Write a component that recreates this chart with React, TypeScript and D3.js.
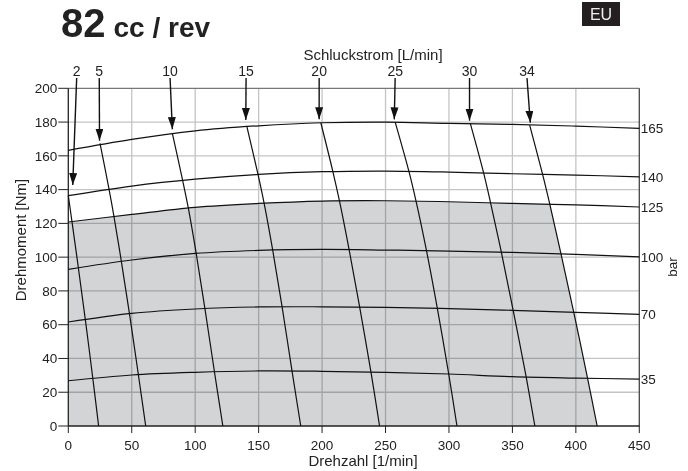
import * as d3 from "d3";
import React from "react";

// Drehzahl [1/min] sample positions for the pressure curves
const speeds = [0, 50, 100, 150, 200, 250, 300, 350, 400, 450];

// torque [Nm] per pressure (bar) curve, read at the speeds above
const pressureLabels = ["165", "140", "125", "100", "70", "35"];
const p165 = [163.2, 169.7, 174.8, 177.8, 179.6, 180, 179.2, 178.6, 177.6, 176.3];
const p140 = [136.4, 142.1, 146.2, 149, 150.6, 151, 150.4, 149.4, 148.6, 147.6];
const p125 = [120.8, 125.3, 129.5, 131.8, 133.2, 133.4, 132.8, 131.8, 131, 129.7];
const p100 = [92.8, 98.3, 102.2, 104, 104.6, 104.2, 103.6, 102.8, 101.6, 100.2];
const p70 = [61.6, 66.7, 69.3, 70.5, 70.6, 70.3, 69.5, 68.5, 67.3, 66.1];
const p35 = [26.8, 30.2, 31.8, 32.6, 32.4, 31.8, 30.8, 29.2, 28.4, 27.8];
const pressureSeries = [p165, p140, p125, p100, p70, p35];

// Schluckstrom [L/min] lines: [speed, torque] points top to bottom
const flowLabels = ["2", "5", "10", "15", "20", "25", "30", "34"];
const flow2 = [[0, 136.4], [2.9, 121], [8, 93.3], [13.5, 62.6], [19.3, 28.3], [23.9, 0]];
const flow5 = [[25, 167.4], [31.9, 141], [35.9, 124.5], [41.8, 97.5], [48.2, 66.5], [55.2, 30.5], [61, 0]];
const flow10 = [[82, 173.3], [90.1, 145.5], [94.6, 129], [100.8, 102.2], [107.7, 69.4], [115.2, 32], [121.8, 0]];
const flow15 = [[140.7, 177.4], [149.5, 149], [154.3, 132], [161.1, 104.1], [168.5, 70.5], [176.3, 32.6], [183.2, 0]];
const flow20 = [[199, 179.6], [208.5, 150.7], [213.7, 133.3], [221.3, 104.5], [229.6, 70.5], [238.5, 32], [245.3, 0]];
const flow25 = [[257.6, 180], [268.4, 150.9], [274, 133.3], [282.3, 103.8], [290.8, 69.8], [299.8, 30.8], [306.3, 0]];
const flow30 = [[316.8, 179.2], [327.2, 150.2], [332.7, 132.5], [341.2, 103.2], [350.6, 68.5], [360.8, 29.2], [367.7, 0]];
const flow34 = [[363.6, 178.2], [373.7, 149.3], [379.5, 131.2], [388.3, 101.9], [398.4, 67.1], [409.2, 28.4], [416.8, 0]];
const flowSeries = [flow2, flow5, flow10, flow15, flow20, flow25, flow30, flow34];

// label position (speed) and arrow tip (speed, torque) for each flow line
const flowLabelSpeed = [6.6, 24.4, 80.2, 140.1, 197.7, 257.6, 316.2, 361.5];
const arrowTipSpeed = [3.5, 24.6, 82, 139.9, 197.7, 256.9, 316.2, 364.1];
const arrowTipTorque = [142.7, 169, 175.8, 181.2, 181.6, 181.6, 180.8, 179.6];

const xTicks = [0, 50, 100, 150, 200, 250, 300, 350, 400, 450];
const yTicks = [0, 20, 40, 60, 80, 100, 120, 140, 160, 180, 200];

const W = 688;
const H = 471;
const FONT = "'Liberation Sans', Arial, Helvetica, sans-serif";

export default function App() {
  const x = d3.scaleLinear().domain([0, 450]).range([68.3, 639.3]);
  const y = d3.scaleLinear().domain([0, 200]).range([426, 88.3]);

  const line = d3
    .line<number[]>()
    .x((d) => x(d[0]))
    .y((d) => y(d[1]))
    .curve(d3.curveCatmullRom.alpha(0.5));

  const shadeArea = d3
    .area<number[]>()
    .x((d) => x(d[0]))
    .y0(y(0))
    .y1((d) => y(d[1]))
    .curve(d3.curveCatmullRom.alpha(0.5));

  const pts125 = speeds.map((s, i) => [s, p125[i]]);
  const line34 = line(flow34) || "";
  // region left of the 34 L/min line
  const clip34 =
    `M${x(0)},${y(0)}L${x(0)},${y(200)}L${x(flow34[0][0])},${y(200)}` +
    "L" + line34.slice(1) + "Z";

  const tickFont = 13.5;

  return (
    <svg
      width={W}
      height={H}
      style={{ position: "absolute", left: 0, top: 0, background: "#fff" }}
      fontFamily={FONT}
    >
      <defs>
        <clipPath id="clip34">
          <path d={clip34} />
        </clipPath>
        <marker
          id="arrowhead"
          markerUnits="userSpaceOnUse"
          markerWidth={13}
          markerHeight={9}
          refX={12}
          refY={4}
          orient="auto"
        >
          <path d="M0,0 L12,4 L0,8 Z" fill="#111" />
        </marker>
      </defs>

      {/* title */}
      <text x={61} y={37} fontSize={40} fontWeight="bold" fill="#222">
        82
        <tspan dx={8} fontSize={28}>cc / rev</tspan>
      </text>
      <rect x={582} y={2} width={38} height={24} fill="#231f20" />
      <text x={601} y={20} fontSize={16} fill="#eee" textAnchor="middle">
        EU
      </text>

      {/* shaded operating area */}
      <path d={shadeArea(pts125) || ""} fill="#d3d4d6" clipPath="url(#clip34)" />

      {/* grid */}
      <g stroke="#c4c4c4" strokeWidth={1.3} style={{ mixBlendMode: "multiply" }}>
        {xTicks.slice(1, -1).map((t) => (
          <line key={"gx" + t} x1={x(t)} x2={x(t)} y1={y(0)} y2={y(200)} />
        ))}
        {yTicks.slice(1, -1).map((t) => (
          <line key={"gy" + t} x1={x(0)} x2={x(450)} y1={y(t)} y2={y(t)} />
        ))}
      </g>

      {/* frame */}
      <line x1={x(0)} x2={x(450)} y1={y(200)} y2={y(200)} stroke="#777" strokeWidth={1.3} />
      <line x1={x(450)} x2={x(450)} y1={y(200)} y2={y(0)} stroke="#444" strokeWidth={1.3} />
      <line x1={x(0)} x2={x(0)} y1={y(200)} y2={y(0)} stroke="#222" strokeWidth={1.3} />
      <line x1={x(0)} x2={x(450)} y1={y(0)} y2={y(0)} stroke="#222" strokeWidth={1.3} />

      {/* y axis */}
      {yTicks.map((t) => (
        <g key={"yt" + t}>
          <line x1={x(0) - 10} x2={x(0)} y1={y(t)} y2={y(t)} stroke="#222" strokeWidth={1} />
          <text
            x={x(0) - 11}
            y={y(t)}
            dy="0.35em"
            textAnchor="end"
            fontSize={tickFont}
            fill="#222"
          >
            {t}
          </text>
        </g>
      ))}
      <text
        transform={`translate(21,240) rotate(-90)`}
        textAnchor="middle"
        dy="0.35em"
        fontSize={15}
        fill="#222"
      >
        Drehmoment [Nm]
      </text>

      {/* x axis */}
      {xTicks.map((t) => (
        <g key={"xt" + t}>
          <line x1={x(t)} x2={x(t)} y1={y(0)} y2={y(0) + 7} stroke="#222" strokeWidth={1} />
          <text x={x(t)} y={y(0) + 24} textAnchor="middle" fontSize={tickFont} fill="#222">
            {t}
          </text>
        </g>
      ))}
      <text x={363} y={466} textAnchor="middle" fontSize={15} fill="#222">
        Drehzahl [1/min]
      </text>

      {/* pressure curves */}
      {pressureSeries.map((s, i) => (
        <g key={"p" + i}>
          <path
            d={line(speeds.map((sp, j) => [sp, s[j]])) || ""}
            fill="none"
            stroke="#111"
            strokeWidth={1.2}
          />
          <text
            x={x(450) + 1.5}
            y={y(s[s.length - 1])}
            dy="0.35em"
            fontSize={tickFont}
            fill="#222"
          >
            {pressureLabels[i]}
          </text>
        </g>
      ))}
      <text
        transform={`translate(672,267) rotate(-90)`}
        textAnchor="middle"
        dy="0.35em"
        fontSize={tickFont}
        fill="#222"
      >
        bar
      </text>

      {/* flow lines */}
      {flowSeries.map((f, i) => (
        <path key={"f" + i} d={line(f) || ""} fill="none" stroke="#111" strokeWidth={1.2} />
      ))}

      {/* flow labels and arrows */}
      <text x={373} y={60} textAnchor="middle" fontSize={15} fill="#222">
        Schluckstrom [L/min]
      </text>
      {flowLabels.map((l, i) => (
        <g key={"fl" + i}>
          <text
            x={x(flowLabelSpeed[i])}
            y={76}
            textAnchor="middle"
            fontSize={14}
            fill="#222"
          >
            {l}
          </text>
          <line
            x1={x(flowLabelSpeed[i])}
            y1={78}
            x2={x(arrowTipSpeed[i])}
            y2={y(arrowTipTorque[i])}
            stroke="#111"
            strokeWidth={1.4}
            markerEnd="url(#arrowhead)"
          />
        </g>
      ))}
    </svg>
  );
}
